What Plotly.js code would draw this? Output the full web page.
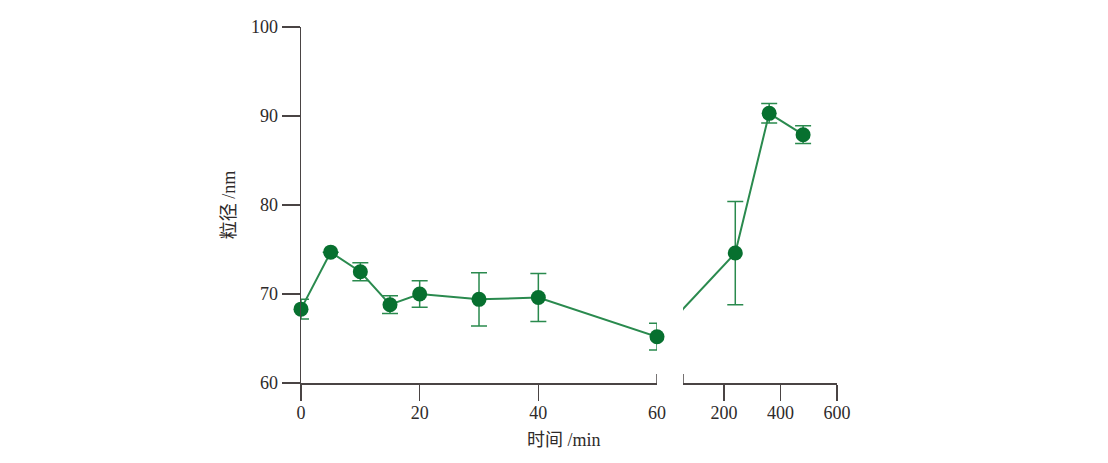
<!DOCTYPE html>
<html>
<head>
<meta charset="utf-8">
<script src="https://cdn.plot.ly/plotly-3.0.1.min.js"></script>
<style>html,body{margin:0;padding:0;background:#fff;}#chart{width:1108px;height:463px;}</style>
</head>
<body>
<div id="chart"></div>
<script>
// ---- data ----
var timeEarly = [0, 5, 10, 15, 20, 30, 40, 60];          // min
var sizeEarly = [68.3, 74.7, 72.5, 68.8, 70.0, 69.4, 69.6, 65.2];
var errEarly  = [1.1, 0, 1.0, 1.0, 1.5, 3.0, 2.7, 1.5];
var timeLate  = [240, 360, 480];                          // min
var sizeLate  = [74.6, 90.3, 87.9];
var errLate   = [5.8, 1.1, 1.0];
var leftTicks  = [0, 20, 40];
var breakTick  = [60];
var rightTicks = [200, 400, 600];
var yTicks = [60, 70, 80, 90, 100];
var xTitle = '时间 /min';
var yTitle = '粒径 /nm';

// ---- layout parameters ----
var leftDom = [0, 0.6642];
var rightDom = [0.7127, 1];
var leftRange = [0, 60];
var rightRange = [55, 600];
var yRange = [60, 100];

var markerColor = '#07702f';
var lineColor = '#2a8a4e';
var axisColor = '#4a4444';
var tickFont = {family: 'Liberation Serif, DejaVu Serif, serif', size: 18, color: '#2e2a2a'};
var titleFont = {family: 'Liberation Serif, Noto Sans CJK SC, serif', size: 18, color: '#2e2a2a'};

// x-position (in right-axis units) of the last early point, so the connecting line
// crosses the axis break at the right slope
var lastEarlyX = timeEarly[timeEarly.length - 1];
var pxPerLeft = (leftDom[1] - leftDom[0]) / (leftRange[1] - leftRange[0]);
var pxPerRight = (rightDom[1] - rightDom[0]) / (rightRange[1] - rightRange[0]);
var lastEarlyFrac = leftDom[0] + (lastEarlyX - leftRange[0]) * pxPerLeft;
var lastEarlyInRight = rightRange[0] - (rightDom[0] - lastEarlyFrac) / pxPerRight;

var traces = [
  {
    x: timeEarly, y: sizeEarly, xaxis: 'x', yaxis: 'y', mode: 'lines+markers',
    line: {color: lineColor, width: 2},
    marker: {color: markerColor, size: 15},
    error_y: {type: 'data', array: errEarly, visible: true, color: lineColor, thickness: 1.5, width: 8},
    cliponaxis: false, showlegend: false, hoverinfo: 'x+y'
  },
  {
    x: [lastEarlyInRight, timeLate[0]], y: [sizeEarly[sizeEarly.length - 1], sizeLate[0]],
    xaxis: 'x2', yaxis: 'y', mode: 'lines',
    line: {color: lineColor, width: 2}, showlegend: false, hoverinfo: 'skip'
  },
  {
    x: timeLate, y: sizeLate, xaxis: 'x2', yaxis: 'y', mode: 'lines+markers',
    line: {color: lineColor, width: 2},
    marker: {color: markerColor, size: 15},
    error_y: {type: 'data', array: errLate, visible: true, color: lineColor, thickness: 1.5, width: 8},
    cliponaxis: false, showlegend: false, hoverinfo: 'x+y'
  },
  // invisible carrier so the overlay axis holding the "60" label is drawn
  {
    x: breakTick, y: [sizeEarly[sizeEarly.length - 1]], xaxis: 'x3', yaxis: 'y',
    mode: 'none', showlegend: false, hoverinfo: 'skip'
  }
];

var yPerPx = (yRange[1] - yRange[0]) / 356;
var layout = {
  width: 1108, height: 463,
  margin: {l: 301, r: 271, t: 27, b: 80},
  paper_bgcolor: '#fff', plot_bgcolor: '#fff',
  showlegend: false,
  xaxis: {
    domain: leftDom, range: leftRange, anchor: 'y',
    tickmode: 'array', tickvals: leftTicks, ticktext: leftTicks.map(String),
    ticks: 'outside', ticklen: 16, tickwidth: 1.5, tickcolor: axisColor,
    showline: true, linecolor: axisColor, linewidth: 1.5,
    showgrid: false, zeroline: false, tickfont: tickFont, ticklabelstandoff: -3
  },
  xaxis3: {
    overlaying: 'x', range: leftRange, anchor: 'y', side: 'bottom',
    tickmode: 'array', tickvals: breakTick, ticktext: breakTick.map(String),
    ticks: 'outside', ticklen: 16, tickcolor: 'rgba(0,0,0,0)',
    showline: false, showgrid: false, zeroline: false, tickfont: tickFont, ticklabelstandoff: -3
  },
  xaxis2: {
    domain: rightDom, range: rightRange, anchor: 'y',
    tickmode: 'array', tickvals: rightTicks, ticktext: rightTicks.map(String),
    ticks: 'outside', ticklen: 16, tickwidth: 1.5, tickcolor: axisColor,
    showline: true, linecolor: axisColor, linewidth: 1.5,
    showgrid: false, zeroline: false, tickfont: tickFont, ticklabelstandoff: -3
  },
  yaxis: {
    range: yRange, anchor: 'x',
    tickvals: yTicks, ticktext: yTicks.map(String),
    ticks: 'outside', ticklen: 18, tickwidth: 1.5, tickcolor: axisColor,
    showline: true, linecolor: axisColor, linewidth: 1.5,
    showgrid: false, zeroline: false, tickfont: tickFont,
    title: {text: yTitle, font: titleFont, standoff: 10}
  },
  shapes: [
    {type: 'line', xref: 'x', yref: 'y', x0: lastEarlyX, x1: lastEarlyX,
     y0: yRange[0] + 9 * yPerPx, y1: yRange[0] - 10 * yPerPx,
     line: {color: axisColor, width: 1.5}},
    {type: 'line', xref: 'x2', yref: 'y', x0: rightRange[0], x1: rightRange[0],
     y0: yRange[0] + 9 * yPerPx, y1: yRange[0] - 10 * yPerPx,
     line: {color: axisColor, width: 1.5}}
  ],
  annotations: [
    {text: xTitle, xref: 'paper', yref: 'paper', x: 0.49, y: 0, yshift: -57,
     xanchor: 'center', yanchor: 'middle', showarrow: false, font: titleFont}
  ]
};

Plotly.newPlot('chart', traces, layout, {displayModeBar: false, staticPlot: true});
</script>
</body>
</html>
